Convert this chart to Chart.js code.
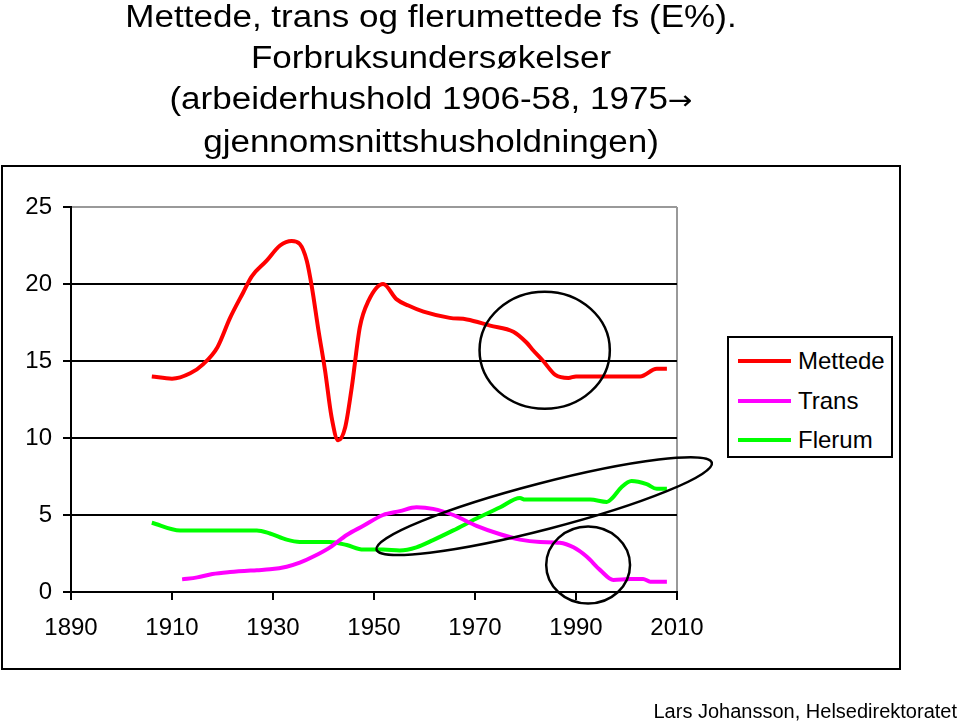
<!DOCTYPE html>
<html>
<head>
<meta charset="utf-8">
<script src="https://cdn.jsdelivr.net/npm/chart.js"></script>
<style>
    body { margin: 0; background: #fff; overflow: hidden; }
    #wrap { position: relative; width: 959px; height: 721px; font-family: "Liberation Sans", Arial, sans-serif; color: #000; }
    #fatChart { position: absolute; left: 0; top: 0; }
    #title { position: absolute; left: 0; top: -4px; width: 862px; text-align: center;
             font-size: 31px; line-height: 41px; transform: scaleX(1.13); transform-origin: 431px 0; white-space: nowrap; }
    #title .arrow { font-family: "DejaVu Sans", sans-serif; font-size: 26px; }
    #frame { position: absolute; left: 1px; top: 165px; width: 896px; height: 501px; border: 2px solid #000; pointer-events: none; }
    #legend { position: absolute; left: 727px; top: 336px; width: 162px; height: 118px; border: 2px solid #000; background: #fff; }
    .legItem { position: absolute; left: 0; width: 160px; height: 30px; }
    .legLine { position: absolute; left: 9px; top: 13px; width: 53px; height: 4px; }
    .legText { position: absolute; left: 69px; top: 0; font-size: 24px; line-height: 30px; }
    #credit { position: absolute; right: 2px; top: 701px; font-size: 20px; line-height: 20px; white-space: nowrap; }
</style>
</head>
<body>
<div id="wrap">
    <canvas id="fatChart" width="959" height="721"></canvas>
    <div id="title">Mettede, trans og flerumettede fs (E%).<br>Forbruksundersøkelser<br>(arbeiderhushold 1906-58, 1975<span class="arrow">→</span><br>gjennomsnittshusholdningen)</div>
    <div id="frame"></div>
    <div id="legend"></div>
    <div id="credit">Lars Johansson, Helsedirektoratet</div>
</div>
<script>
// verdier lest av bildet (år, E%)
var mettedeYears = [1906, 1910, 1913.6, 1916.2, 1919, 1921.5, 1924.1, 1925.8, 1928.7, 1931.4, 1933.7, 1935.3, 1936.7, 1937.7, 1939, 1940.3, 1941.6, 1942.9, 1944.3, 1945.6, 1947.2, 1948.9, 1951.8, 1954.5, 1956.8, 1959.8, 1965, 1968.4, 1973, 1977.6, 1980.2, 1981.5, 1983.5, 1985.9, 1988.5, 1990, 2002.7, 2006, 2008];
var mettede = [14.0, 13.85, 14.2, 14.8, 15.9, 17.8, 19.45, 20.5, 21.5, 22.5, 22.8, 22.6, 21.5, 19.8, 17.0, 14.4, 11.35, 9.85, 10.7, 13.3, 17.2, 18.9, 20.0, 19.0, 18.6, 18.2, 17.8, 17.7, 17.3, 16.9, 16.2, 15.7, 15.0, 14.1, 13.9, 14.0, 14.0, 14.5, 14.5];

var transYears = [1912, 1915, 1918, 1921.5, 1926.8, 1929.4, 1932.7, 1935.3, 1938, 1941.3, 1944.6, 1947.9, 1951.8, 1955.1, 1958.4, 1961.7, 1965.7, 1970.3, 1975, 1978.9, 1982.9, 1986.8, 1989.5, 1992.1, 1994.8, 1997.4, 2000.7, 2003.3, 2004.7, 2008];
var trans = [0.82, 0.95, 1.17, 1.3, 1.42, 1.47, 1.64, 1.9, 2.3, 2.9, 3.7, 4.3, 5.0, 5.25, 5.5, 5.4, 5.0, 4.3, 3.75, 3.4, 3.25, 3.2, 2.9, 2.3, 1.42, 0.78, 0.84, 0.84, 0.67, 0.67];

var flerumYears = [1906, 1911.6, 1926.8, 1929.4, 1932.7, 1935.3, 1941.3, 1944.6, 1947.9, 1951.8, 1955.1, 1958.4, 1961.7, 1965.7, 1970.3, 1975, 1978.9, 1979.9, 1992.8, 1996.1, 1997.1, 1999, 2001, 2004, 2006, 2008];
var flerum = [4.5, 4.0, 4.0, 3.8, 3.4, 3.25, 3.25, 3.05, 2.76, 2.76, 2.7, 2.9, 3.37, 4.0, 4.77, 5.5, 6.1, 6.0, 6.0, 5.85, 6.07, 6.8, 7.2, 7.0, 6.7, 6.7];

var seriesLabels = ['Mettede', 'Trans', 'Flerum'];
var seriesColors = ['#ff0000', '#ff00ff', '#00ff00'];

var xTicks = [1890, 1910, 1930, 1950, 1970, 1990, 2010];
var yTicks = [0, 5, 10, 15, 20, 25];

// markeringer tegnet på bildet: sentrum (år, E%) og radier i samme enheter
var circles = [
    { x: 1983.8, y: 15.7, rx: 12.9, ry: 3.8 },
    { x: 1992.4, y: 1.75, rx: 8.3, ry: 2.5 }
];
var ovalEnds = [[1950.5, 2.75], [2016.9, 8.4]];
var ovalHalfWidth = 1.5;

function toPoints(xs, ys) {
    return xs.map(function(x, i) { return { x: x, y: ys[i] }; });
}

var annotations = {
    id: 'annotations',
    afterDatasetsDraw: function(chart) {
        var ctx = chart.ctx;
        var xs = chart.scales.x, ys = chart.scales.y;
        ctx.save();
        ctx.strokeStyle = '#000';
        ctx.lineWidth = 2.5;
        circles.forEach(function(c) {
            var cx = xs.getPixelForValue(c.x), cy = ys.getPixelForValue(c.y);
            var rx = xs.getPixelForValue(c.x + c.rx) - cx;
            var ry = cy - ys.getPixelForValue(c.y + c.ry);
            ctx.beginPath();
            ctx.ellipse(cx, cy, rx, ry, 0, 0, Math.PI * 2);
            ctx.stroke();
        });
        var x1 = xs.getPixelForValue(ovalEnds[0][0]), y1 = ys.getPixelForValue(ovalEnds[0][1]);
        var x2 = xs.getPixelForValue(ovalEnds[1][0]), y2 = ys.getPixelForValue(ovalEnds[1][1]);
        var half = ys.getPixelForValue(0) - ys.getPixelForValue(ovalHalfWidth);
        ctx.beginPath();
        ctx.ellipse((x1 + x2) / 2, (y1 + y2) / 2, Math.hypot(x2 - x1, y2 - y1) / 2, half, Math.atan2(y2 - y1, x2 - x1), 0, Math.PI * 2);
        ctx.stroke();
        ctx.restore();
    }
};

function buildLegend() {
    var box = document.getElementById('legend');
    seriesLabels.forEach(function(label, i) {
        var item = document.createElement('div');
        item.className = 'legItem';
        item.style.top = (8 + i * 39.5) + 'px';
        item.innerHTML = '<div class="legLine" style="background:' + seriesColors[i] + '"></div><div class="legText">' + label + '</div>';
        box.appendChild(item);
    });
}

function generateChart() {
    var ctx = document.getElementById('fatChart').getContext('2d');
    var series = [toPoints(mettedeYears, mettede), toPoints(transYears, trans), toPoints(flerumYears, flerum)];
    var tickFont = { family: '"Liberation Sans", Arial, sans-serif', size: 24 };

    new Chart(ctx, {
        type: 'line',
        data: {
            datasets: series.map(function(pts, i) {
                return {
                    label: seriesLabels[i],
                    data: pts,
                    borderColor: seriesColors[i],
                    backgroundColor: seriesColors[i],
                    borderWidth: 4,
                    pointRadius: 0,
                    cubicInterpolationMode: 'monotone',
                    fill: false
                };
            })
        },
        options: {
            responsive: false,
            animation: false,
            layout: { padding: { left: 0, top: 207, right: 282, bottom: 79 } },
            plugins: { legend: { display: false }, title: { display: false }, tooltip: { enabled: false } },
            scales: {
                x: {
                    type: 'linear',
                    min: xTicks[0],
                    max: xTicks[xTicks.length - 1],
                    afterFit: function(s) { s.height = 50; },
                    afterBuildTicks: function(s) { s.ticks = xTicks.map(function(v) { return { value: v }; }); },
                    ticks: { color: '#000', font: tickFont, padding: 14, maxRotation: 0,
                             callback: function(v) { return String(v); } },
                    grid: {
                        drawOnChartArea: true,
                        lineWidth: 2,
                        tickLength: 8,
                        tickColor: '#000',
                        color: function(c) { return c.tick && c.tick.value === 2010 ? '#999999' : 'rgba(0,0,0,0)'; }
                    },
                    border: { color: '#000', width: 2 }
                },
                y: {
                    min: yTicks[0],
                    max: yTicks[yTicks.length - 1],
                    afterFit: function(s) { s.width = 71; },
                    afterBuildTicks: function(s) { s.ticks = yTicks.map(function(v) { return { value: v }; }); },
                    ticks: { color: '#000', font: tickFont, padding: 11,
                             callback: function(v) { return String(v); } },
                    grid: {
                        lineWidth: 2,
                        tickLength: 8,
                        tickColor: '#000',
                        color: function(c) { return c.tick && c.tick.value === 25 ? '#999999' : '#000'; }
                    },
                    border: { color: '#000', width: 2 }
                }
            }
        },
        plugins: [annotations]
    });
}

document.addEventListener('DOMContentLoaded', function() {
    buildLegend();
    generateChart();
});
</script>
</body>
</html>
